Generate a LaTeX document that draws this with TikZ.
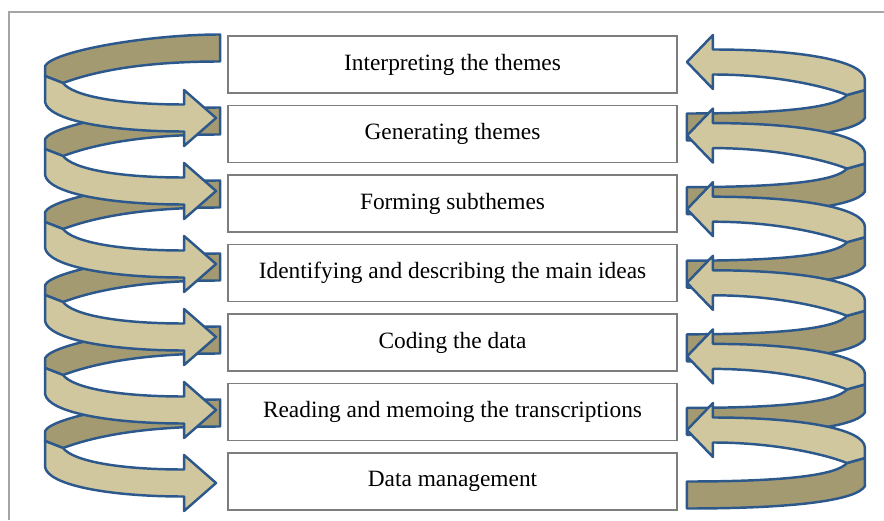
\documentclass[tikz,border=0pt]{standalone}
\usepackage{fontspec}
\setmainfont{Liberation Serif}
\usetikzlibrary{positioning, calc}
\definecolor{SpiralBlue}{RGB}{44, 88, 140}
\definecolor{SpiralLight}{RGB}{208, 199, 158}
\definecolor{SpiralDark}{RGB}{163, 154, 114}
\definecolor{BoxGray}{RGB}{125, 125, 125}
\definecolor{FrameGray}{RGB}{165, 165, 165}

\begin{document}
\begin{tikzpicture}[
    x=0.02cm, y=-0.02cm,
    node distance=0.25cm,
    every node/.style={font=\fontsize{13.3}{15}\selectfont, align=center},
    stage/.style={draw=BoxGray, line width=0.9pt, fill=white, outer sep=0pt,
                  minimum width=8.98cm, minimum height=1.14cm, inner sep=0pt},
    band/.style={draw=SpiralBlue, line width=1.4pt, line join=round},
    backband/.style={band, fill=SpiralDark},
    frontband/.style={band, fill=SpiralLight}
]
\useasboundingbox (0,0) rectangle (884,520);
\draw[FrameGray, line width=1.1pt] (9,520) -- (9,12) -- (884,12);

% the seven stages
\node[stage] (b1) at (452.5,64.5) {Interpreting the themes};
\node[stage, below=of b1] (b2) {Generating themes};
\node[stage, below=of b2] (b3) {Forming subthemes};
\node[stage, below=of b3] (b4) {Identifying and describing the main ideas};
\node[stage, below=of b4] (b5) {Coding the data};
\node[stage, below=of b5] (b6) {Reading and memoing the transcriptions};
\node[stage, below=of b6] (b7) {Data management};

% back halves of both spirals
\foreach \k in {0,...,5} {
  \begin{scope}[shift={(b1.west)}, shift={(0,{-16.5+73*\k})}]
    \draw[backband] (-8,-13.5) .. controls (-80,-13.5) and (-175,3) .. (-183,18)
      -- (-183,28) -- (-165,35) .. controls (-130,22) and (-80,13.5) .. (-8,13.5) -- cycle;
  \end{scope}
  \begin{scope}[shift={(b1.east)}, shift={(0,{-2.5+73.6*\k})}]
    \draw[backband] (188,28) -- (188,56) .. controls (180,70) and (120,78.5) .. (10,78.5)
      -- (10,51.5) .. controls (110,51.5) and (160,45) .. (170,33) -- cycle;
  \end{scope}
}

% front halves with the arrow heads
\foreach \k in {0,...,5} {
  \begin{scope}[shift={(b1.west)}, shift={(0,{-16.5+73*\k})}]
    \draw[frontband] (-183,28) -- (-183,54) .. controls (-180,72) and (-120,83.5) .. (-44,83.5)
      -- (-44,98) -- (-12,70) -- (-44,42) -- (-44,56.5)
      .. controls (-110,56.5) and (-155,48) .. (-165,35) -- cycle;
  \end{scope}
  \begin{scope}[shift={(b1.east)}, shift={(0,{-2.5+73.6*\k})}]
    \draw[frontband] (10,0) -- (36,-27) -- (36,-12.5) .. controls (120,-12.5) and (188,-2) .. (188,18)
      -- (188,28) -- (170,33) .. controls (150,25) and (100,12.5) .. (36,12.5) -- (36,27) -- cycle;
  \end{scope}
}
\end{tikzpicture}
\end{document}
